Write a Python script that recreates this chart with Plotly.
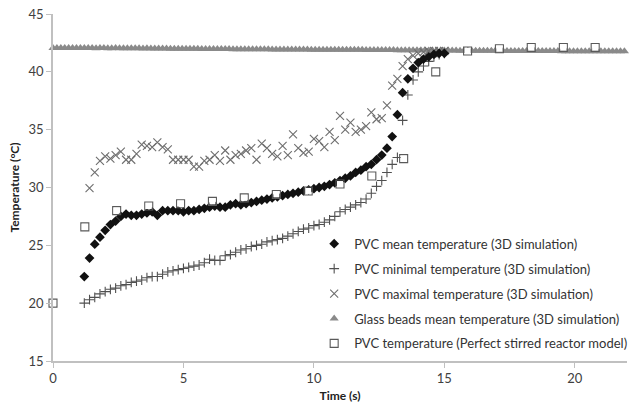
import plotly.graph_objects as go

# Simulation sampling times (s)
t_sim = [1.2, 1.4, 1.6, 1.8, 2.0, 2.2, 2.4, 2.6, 2.8, 3.0,
         3.2, 3.4, 3.6, 3.8, 4.0, 4.2, 4.4, 4.6, 4.8, 5.0,
         5.2, 5.4, 5.6, 5.8, 6.0, 6.2, 6.4, 6.6, 6.8, 7.0,
         7.2, 7.4, 7.6, 7.8, 8.0, 8.2, 8.4, 8.6, 8.8, 9.0,
         9.2, 9.4, 9.6, 9.8, 10.0, 10.2, 10.4, 10.6, 10.8, 11.0,
         11.2, 11.4, 11.6, 11.8, 12.0, 12.2, 12.4, 12.6, 12.8, 13.0,
         13.2, 13.4, 13.6, 13.8, 14.0, 14.2, 14.4, 14.6, 14.8, 15.0]

pvc_mean = [22.3, 23.9, 25.1, 25.7, 26.3, 26.8, 27.1, 27.5, 27.7, 27.6,
            27.6, 27.7, 27.8, 27.9, 27.6, 28.0, 28.0, 28.0, 28.0, 27.9,
            28.0, 28.0, 28.1, 28.2, 28.3, 28.4, 28.3, 28.3, 28.5, 28.6,
            28.5, 28.6, 28.7, 28.8, 28.9, 29.0, 29.1, 29.2, 29.3, 29.4,
            29.5, 29.6, 29.7, 29.8, 29.9, 30.0, 30.1, 30.25, 30.4, 30.6,
            30.8, 31.0, 31.3, 31.5, 31.8, 32.0, 32.4, 32.8, 33.4, 34.4,
            36.3, 38.2, 39.4, 40.3, 40.8, 41.1, 41.3, 41.5, 41.6, 41.6]

pvc_min = [20.0, 20.3, 20.5, 20.8, 21.0, 21.2, 21.3, 21.5, 21.6, 21.8,
           21.9, 22.0, 22.2, 22.3, 22.3, 22.5, 22.7, 22.8, 22.9, 23.0,
           23.1, 23.2, 23.3, 23.5, 23.8, 23.7, 23.7, 24.1, 24.2, 24.4,
           24.6, 24.7, 24.9, 25.0, 25.1, 25.3, 25.4, 25.5, 25.6, 25.8,
           26.0, 26.2, 26.4, 26.5, 26.7, 26.8, 27.0, 27.2, 27.5, 27.9,
           28.1, 28.3, 28.5, 28.7, 29.0, 29.5, 30.1, 30.6, 31.3, 32.0,
           32.6, 35.8, 38.0, 39.3, 40.0, 40.5, 40.9, 41.3, 41.5, 41.6]

t_max = t_sim[1:]
pvc_max = [29.95, 31.3, 32.3, 32.7, 32.5, 32.8, 33.1, 32.4, 32.4,
           32.9, 33.7, 33.6, 33.5, 33.9, 33.5, 33.3, 32.4, 32.4, 32.4,
           32.4, 31.8, 31.8, 32.3, 32.4, 32.8, 32.3, 33.2, 32.4, 32.8,
           32.9, 33.2, 33.4, 32.4, 33.8, 33.4, 32.9, 32.7, 33.6, 32.8,
           34.6, 33.4, 33.0, 33.1, 34.2, 34.0, 33.5, 34.8, 34.1, 36.2,
           35.0, 35.6, 34.8, 35.0, 35.3, 36.5, 35.9, 36.0, 37.1, 38.8,
           39.4, 40.5, 41.1, 41.4, 41.6, 41.7, 41.8, 41.8, 41.8, 41.8]

t_glass = [0.0, 0.15, 0.3, 0.45, 0.6, 0.75, 0.9, 1.05, 1.2, 1.35,
           1.5, 1.65, 1.8, 1.95, 2.1, 2.25, 2.4, 2.55, 2.7, 2.85,
           3.0, 3.15, 3.3, 3.45, 3.6, 3.75, 3.9, 4.05, 4.2, 4.35,
           4.5, 4.65, 4.8, 4.95, 5.1, 5.25, 5.4, 5.55, 5.7, 5.85,
           6.0, 6.15, 6.3, 6.45, 6.6, 6.75, 6.9, 7.05, 7.2, 7.35,
           7.5, 7.65, 7.8, 7.95, 8.1, 8.25, 8.4, 8.55, 8.7, 8.85,
           9.0, 9.15, 9.3, 9.45, 9.6, 9.75, 9.9, 10.05, 10.2, 10.35,
           10.5, 10.65, 10.8, 10.95, 11.1, 11.25, 11.4, 11.55, 11.7, 11.85,
           12.0, 12.15, 12.3, 12.45, 12.6, 12.75, 12.9, 13.05, 13.2, 13.35,
           13.5, 13.65, 13.8, 13.95, 14.1, 14.25, 14.4, 14.55, 14.7, 14.85,
           15.0, 15.15, 15.3, 15.45, 15.6, 15.75, 15.9, 16.05, 16.2, 16.35,
           16.5, 16.65, 16.8, 16.95, 17.1, 17.25, 17.4, 17.55, 17.7, 17.85,
           18.0, 18.15, 18.3, 18.45, 18.6, 18.75, 18.9, 19.05, 19.2, 19.35,
           19.5, 19.65, 19.8, 19.95, 20.1, 20.25, 20.4, 20.55, 20.7, 20.85,
           21.0, 21.15, 21.3, 21.45, 21.6, 21.75, 21.9]

glass_mean = [42.05, 42.05, 42.05, 42.05, 42.05, 42.05, 42.05, 42.05, 42.05, 42.05,
              42.05, 42.04, 42.05, 42.05, 42.04, 42.04, 42.05, 42.04, 42.04, 42.04,
              42.03, 42.03, 42.03, 42.02, 42.03, 42.02, 42.02, 42.02, 42.01, 42.01,
              42.0, 42.0, 42.0, 42.0, 41.99, 41.99, 41.99, 41.99, 41.98, 41.98,
              41.98, 41.98, 41.97, 41.97, 41.97, 41.97, 41.96, 41.96, 41.96, 41.96,
              41.96, 41.95, 41.95, 41.95, 41.95, 41.95, 41.94, 41.94, 41.94, 41.94,
              41.94, 41.93, 41.93, 41.93, 41.93, 41.93, 41.92, 41.92, 41.92, 41.92,
              41.92, 41.91, 41.91, 41.91, 41.91, 41.9, 41.9, 41.9, 41.9, 41.9,
              41.89, 41.89, 41.89, 41.89, 41.88, 41.88, 41.88, 41.88, 41.87, 41.87,
              41.87, 41.87, 41.86, 41.86, 41.86, 41.86, 41.85, 41.85, 41.85, 41.85,
              41.84, 41.84, 41.84, 41.84, 41.83, 41.83, 41.83, 41.83, 41.83, 41.82,
              41.82, 41.82, 41.82, 41.82, 41.81, 41.81, 41.81, 41.81, 41.81, 41.81,
              41.8, 41.8, 41.8, 41.8, 41.8, 41.8, 41.8, 41.8, 41.8, 41.8,
              41.79, 41.79, 41.79, 41.79, 41.79, 41.79, 41.79, 41.79, 41.79, 41.79,
              41.79, 41.79, 41.79, 41.79, 41.79, 41.79, 41.79]

t_psr = [0.0, 1.22, 2.44, 3.67, 4.89, 6.11, 7.33, 8.56, 9.78, 11.0,
         12.22, 13.44, 14.67, 15.89, 17.11, 18.33, 19.56, 20.78]
pvc_psr = [20.0, 26.6, 28.0, 28.4, 28.6, 28.8, 29.1, 29.4, 29.7, 30.3,
           31.0, 32.5, 40.0, 41.8, 42.0, 42.1, 42.1, 42.1]

names = ["PVC mean temperature (3D simulation)",
         "PVC minimal temperature (3D simulation)",
         "PVC maximal temperature (3D simulation)",
         "Glass beads mean temperature (3D simulation)",
         "PVC temperature (Perfect stirred reactor model)"]

fig = go.Figure()

fig.add_trace(go.Scatter(x=t_glass, y=glass_mean, mode="markers", name=names[3],
                         legendrank=4, legendgroup="g4",
                         marker=dict(symbol="triangle-up", size=8, color="#8a8a8a"),
                         cliponaxis=False))
fig.add_trace(go.Scatter(x=t_max, y=pvc_max, mode="markers", name=names[2],
                         legendrank=3, legendgroup="g3",
                         marker=dict(symbol="x-thin", size=8,
                                     line=dict(color="#6e6e6e", width=1.1))))
fig.add_trace(go.Scatter(x=t_sim, y=pvc_min, mode="markers", name=names[1],
                         legendrank=2, legendgroup="g2",
                         marker=dict(symbol="cross-thin", size=7,
                                     line=dict(color="#505050", width=1.1))))
fig.add_trace(go.Scatter(x=t_sim, y=pvc_mean, mode="markers", name=names[0],
                         legendrank=1, legendgroup="g1",
                         marker=dict(symbol="diamond", size=7.5, color="#111111")))
fig.add_trace(go.Scatter(x=t_psr, y=pvc_psr, mode="markers", name=names[4],
                         legendrank=5, legendgroup="g5",
                         marker=dict(symbol="square-open", size=8, color="#5a5a5a",
                                     line=dict(width=1.1)),
                         cliponaxis=False))
fig.add_trace(go.Scatter(x=t_psr, y=pvc_psr, mode="markers", showlegend=False,
                         hoverinfo="skip",
                         marker=dict(symbol="square", size=6, color="white"),
                         cliponaxis=False))

fig.update_layout(
    width=638, height=408,
    margin=dict(l=53, r=6, t=11, b=47),
    paper_bgcolor="white", plot_bgcolor="white",
    font=dict(family="Lato, Open Sans, sans-serif", color="#404040"),
    showlegend=True,
    legend=dict(x=0.455, y=0.381, xanchor="left", yanchor="top",
                bgcolor="rgba(0,0,0,0)", font=dict(size=13, color="#333333"),
                traceorder="grouped", tracegroupgap=5, itemsizing="trace"),
    xaxis=dict(range=[0, 22], tickvals=[0, 5, 10, 15, 20],
               showgrid=False, zeroline=False, showline=True, linecolor="#c0c0c0",
               linewidth=1.5, ticks="outside", ticklen=5, tickcolor="#c0c0c0",
               tickfont=dict(size=13, color="#404040"),
               title=dict(text="<b>Time (s)</b>", font=dict(size=12, color="#222222"),
                          standoff=6)),
    yaxis=dict(range=[15, 45], tickvals=[15, 20, 25, 30, 35, 40, 45],
               showgrid=False, zeroline=False, showline=True, linecolor="#c0c0c0",
               linewidth=1.5, ticks="outside", ticklen=5, tickcolor="#c0c0c0",
               tickfont=dict(size=13, color="#404040"),
               title=dict(text="<b>Temperature (°C)</b>", font=dict(size=12, color="#222222"),
                          standoff=6)),
)

fig.write_html("out.html")
